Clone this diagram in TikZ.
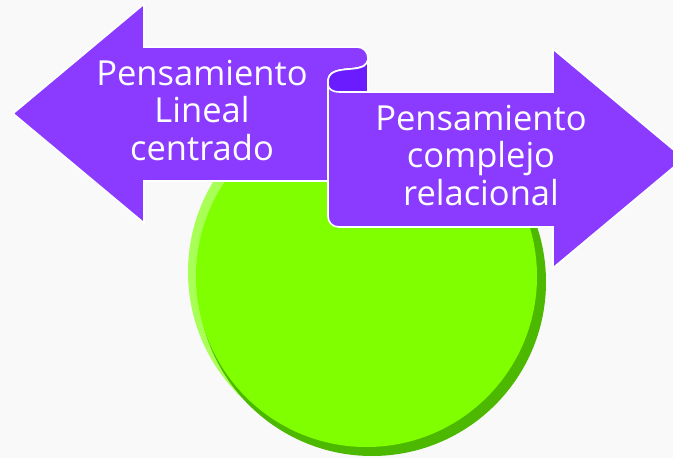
\documentclass[tikz,border=0pt]{standalone}
\usepackage{fontspec}
\setmainfont{Open Sans}
\definecolor{purp}{HTML}{8A3BFF}
\definecolor{purpdark}{HTML}{6A1CFF}
\definecolor{lime}{HTML}{7FFF00}
\definecolor{limedark}{HTML}{4DB800}
\definecolor{limelight}{HTML}{A8FF55}
\definecolor{bg}{HTML}{F9F9F9}

\begin{document}
\begin{tikzpicture}[x=1pt, y=-1pt, arrowshape/.style={fill=purp, draw=white, line width=1.6pt}, arrowtext/.style={text=white, align=center, font=\fontsize{34.5}{37.5}\selectfont}]
		\clip (0,0) rectangle (673,458);
		\fill[bg] (0,0) rectangle (673,458);
		\fill[limelight] (362,272) circle[radius=174pt];
		\fill[limedark] (372,282) circle[radius=174pt];
		\fill[lime] (366.5,276.5) circle[radius=170.5pt];
		\draw[arrowshape] (13,113.5) -- (144,4) -- (144,47) -- (357,47) .. controls (363.5,47) and (368,52) .. (368,58) .. controls (368,66) and (362,68) .. (350,69) .. controls (336,70) and (328,72) .. (328,82) -- (328,181) -- (144,181) -- (144,223) -- cycle;
		\draw[arrowshape] (328,82) -- (328,216) .. controls (328,222) and (332,227) .. (339,227) -- (553,227) -- (553,268) -- (684,158.5) -- (553,49) -- (553,92) -- (368,92) -- (368,58) .. controls (368,66) and (362,68) .. (350,69) .. controls (336,70) and (328,72) .. (328,82) -- cycle;
		\draw[arrowshape, fill=purpdark] (328,82) .. controls (328,72) and (336,70) .. (350,69) .. controls (362,68) and (368,66) .. (368,58) -- (368,92) -- (340,92) .. controls (332,92) and (328,89) .. (328,84) -- cycle;
		\node[arrowtext, anchor=base] (lineal) at (202,160) {Pensamiento\\Lineal\\centrado};
		\node[arrowtext, anchor=base] (complejo) at (481,205) {Pensamiento\\complejo\\relacional};
	\end{tikzpicture}
\end{document}
